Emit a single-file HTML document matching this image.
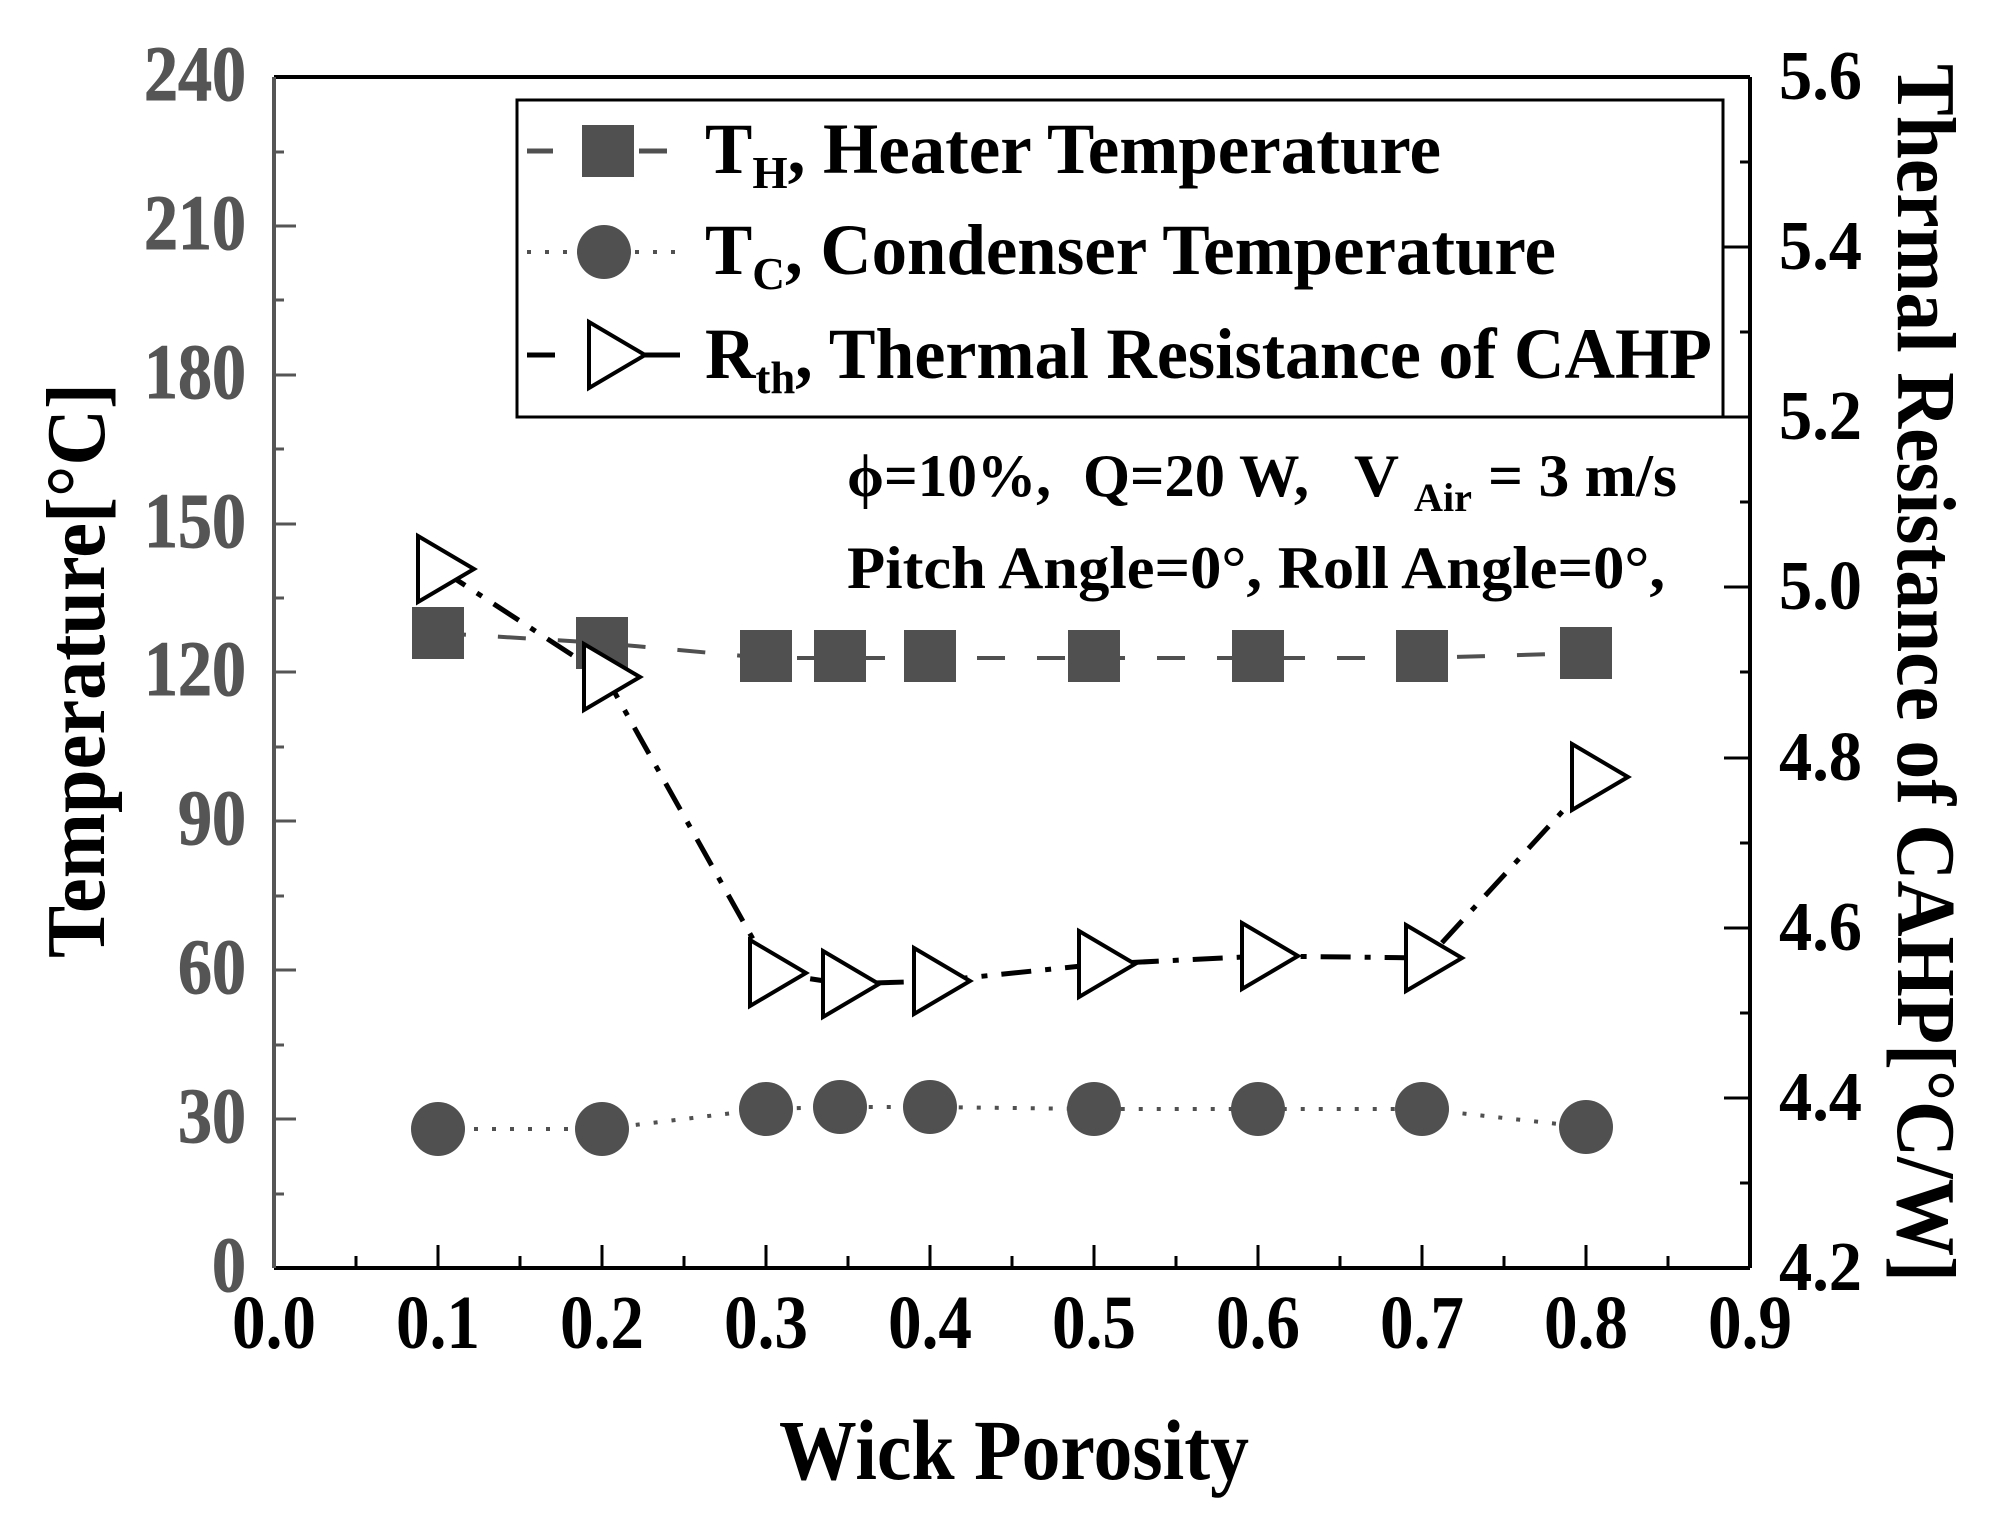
<!DOCTYPE html>
<html><head><meta charset="utf-8"><style>html,body{margin:0;padding:0;background:#fff}svg{display:block}</style></head>
<body>
<svg width="2002" height="1520" viewBox="0 0 2002 1520" xmlns="http://www.w3.org/2000/svg" font-family="'Liberation Serif', serif" font-weight="bold">
<rect width="2002" height="1520" fill="#fff"/>
<!-- axes -->
<line x1="274" y1="77" x2="1750" y2="77" stroke="#000" stroke-width="4"/>
<line x1="1750" y1="77" x2="1750" y2="1268" stroke="#000" stroke-width="4"/>
<line x1="274" y1="1268" x2="1750" y2="1268" stroke="#000" stroke-width="4"/>
<line x1="274" y1="77" x2="274" y2="1268" stroke="#555" stroke-width="4"/>
<!-- left ticks -->
<g stroke="#555" stroke-width="3">
<line x1="274" y1="1119" x2="296" y2="1119"/><line x1="274" y1="970" x2="296" y2="970"/><line x1="274" y1="821" x2="296" y2="821"/><line x1="274" y1="672" x2="296" y2="672"/><line x1="274" y1="524" x2="296" y2="524"/><line x1="274" y1="375" x2="296" y2="375"/><line x1="274" y1="226" x2="296" y2="226"/>
<line x1="274" y1="1194" x2="284" y2="1194"/><line x1="274" y1="1045" x2="284" y2="1045"/><line x1="274" y1="896" x2="284" y2="896"/><line x1="274" y1="747" x2="284" y2="747"/><line x1="274" y1="598" x2="284" y2="598"/><line x1="274" y1="449" x2="284" y2="449"/><line x1="274" y1="300" x2="284" y2="300"/><line x1="274" y1="152" x2="284" y2="152"/>
</g>
<!-- right ticks -->
<g stroke="#000" stroke-width="3">
<line x1="1750" y1="1098" x2="1724" y2="1098"/><line x1="1750" y1="928" x2="1724" y2="928"/><line x1="1750" y1="758" x2="1724" y2="758"/><line x1="1750" y1="587" x2="1724" y2="587"/><line x1="1750" y1="417" x2="1724" y2="417"/><line x1="1750" y1="247" x2="1724" y2="247"/>
<line x1="1750" y1="1183" x2="1740" y2="1183"/><line x1="1750" y1="1013" x2="1740" y2="1013"/><line x1="1750" y1="843" x2="1740" y2="843"/><line x1="1750" y1="672" x2="1740" y2="672"/><line x1="1750" y1="502" x2="1740" y2="502"/><line x1="1750" y1="332" x2="1740" y2="332"/><line x1="1750" y1="162" x2="1740" y2="162"/>
</g>
<!-- bottom ticks -->
<g stroke="#000" stroke-width="3">
<line x1="438" y1="1268" x2="438" y2="1245"/><line x1="602" y1="1268" x2="602" y2="1245"/><line x1="766" y1="1268" x2="766" y2="1245"/><line x1="930" y1="1268" x2="930" y2="1245"/><line x1="1094" y1="1268" x2="1094" y2="1245"/><line x1="1258" y1="1268" x2="1258" y2="1245"/><line x1="1422" y1="1268" x2="1422" y2="1245"/><line x1="1586" y1="1268" x2="1586" y2="1245"/>
<line x1="356" y1="1268" x2="356" y2="1256"/><line x1="520" y1="1268" x2="520" y2="1256"/><line x1="684" y1="1268" x2="684" y2="1256"/><line x1="848" y1="1268" x2="848" y2="1256"/><line x1="1012" y1="1268" x2="1012" y2="1256"/><line x1="1176" y1="1268" x2="1176" y2="1256"/><line x1="1340" y1="1268" x2="1340" y2="1256"/><line x1="1504" y1="1268" x2="1504" y2="1256"/><line x1="1668" y1="1268" x2="1668" y2="1256"/>
</g>
<!-- left labels -->
<g fill="#555" font-size="78" text-anchor="end" stroke="#555" stroke-width="1">
<text x="246" y="1291" textLength="34" lengthAdjust="spacingAndGlyphs">0</text>
<text x="246" y="1142" textLength="68" lengthAdjust="spacingAndGlyphs">30</text>
<text x="246" y="993" textLength="68" lengthAdjust="spacingAndGlyphs">60</text>
<text x="246" y="844" textLength="68" lengthAdjust="spacingAndGlyphs">90</text>
<text x="246" y="695" textLength="102" lengthAdjust="spacingAndGlyphs">120</text>
<text x="246" y="547" textLength="102" lengthAdjust="spacingAndGlyphs">150</text>
<text x="246" y="398" textLength="102" lengthAdjust="spacingAndGlyphs">180</text>
<text x="246" y="249" textLength="102" lengthAdjust="spacingAndGlyphs">210</text>
<text x="246" y="100" textLength="102" lengthAdjust="spacingAndGlyphs">240</text>
</g>
<!-- right labels -->
<g fill="#000" font-size="70">
<text x="1779" y="1290" textLength="83" lengthAdjust="spacingAndGlyphs">4.2</text>
<text x="1779" y="1120" textLength="83" lengthAdjust="spacingAndGlyphs">4.4</text>
<text x="1779" y="950" textLength="83" lengthAdjust="spacingAndGlyphs">4.6</text>
<text x="1779" y="780" textLength="83" lengthAdjust="spacingAndGlyphs">4.8</text>
<text x="1779" y="609" textLength="83" lengthAdjust="spacingAndGlyphs">5.0</text>
<text x="1779" y="439" textLength="83" lengthAdjust="spacingAndGlyphs">5.2</text>
<text x="1779" y="269" textLength="83" lengthAdjust="spacingAndGlyphs">5.4</text>
<text x="1779" y="99" textLength="83" lengthAdjust="spacingAndGlyphs">5.6</text>
</g>
<!-- x labels -->
<g fill="#000" font-size="76" text-anchor="middle">
<text x="274" y="1348" textLength="84" lengthAdjust="spacingAndGlyphs">0.0</text>
<text x="438" y="1348" textLength="84" lengthAdjust="spacingAndGlyphs">0.1</text>
<text x="602" y="1348" textLength="84" lengthAdjust="spacingAndGlyphs">0.2</text>
<text x="766" y="1348" textLength="84" lengthAdjust="spacingAndGlyphs">0.3</text>
<text x="930" y="1348" textLength="84" lengthAdjust="spacingAndGlyphs">0.4</text>
<text x="1094" y="1348" textLength="84" lengthAdjust="spacingAndGlyphs">0.5</text>
<text x="1258" y="1348" textLength="84" lengthAdjust="spacingAndGlyphs">0.6</text>
<text x="1422" y="1348" textLength="84" lengthAdjust="spacingAndGlyphs">0.7</text>
<text x="1586" y="1348" textLength="84" lengthAdjust="spacingAndGlyphs">0.8</text>
<text x="1750" y="1348" textLength="84" lengthAdjust="spacingAndGlyphs">0.9</text>
</g>
<!-- titles -->
<text x="779" y="1479" font-size="86" textLength="470" lengthAdjust="spacingAndGlyphs" fill="#000">Wick Porosity</text>
<text transform="translate(104,958) rotate(-90)" font-size="84" textLength="575" lengthAdjust="spacingAndGlyphs" fill="#000">Temperature[°C]</text>
<text transform="translate(1898,64) rotate(90)" font-size="84" textLength="1218" lengthAdjust="spacingAndGlyphs" fill="#000">Thermal Resistance of CAHP[°C/W]</text>
<!-- series lines -->
<polyline points="438,633 602,643 766,658 840,658 930,658 1094,658 1258,658 1422,658 1586,653" fill="none" stroke="#505050" stroke-width="4" stroke-dasharray="28,32"/>
<polyline points="438,1129 602,1129 766,1109 840,1107 930,1107 1094,1109 1258,1109 1422,1109 1586,1127" fill="none" stroke="#505050" stroke-width="4" stroke-dasharray="4,14"/>
<polyline points="440,569 606,677 772,973 845,984 936,981 1101,964 1264,956 1428,958 1594,777" fill="none" stroke="#000" stroke-width="5" stroke-dasharray="30,14,6,14"/>
<!-- squares -->
<g fill="#505050">
<rect x="412" y="607" width="52" height="52"/><rect x="576" y="617" width="52" height="52"/><rect x="740" y="630" width="52" height="52"/><rect x="814" y="630" width="52" height="52"/><rect x="904" y="630" width="52" height="52"/><rect x="1068" y="630" width="52" height="52"/><rect x="1232" y="630" width="52" height="52"/><rect x="1396" y="630" width="52" height="52"/><rect x="1560" y="627" width="52" height="52"/>
</g>
<!-- circles -->
<g fill="#505050">
<circle cx="438" cy="1129" r="27"/><circle cx="602" cy="1129" r="27"/><circle cx="766" cy="1109" r="27"/><circle cx="840" cy="1107" r="27"/><circle cx="930" cy="1107" r="27"/><circle cx="1094" cy="1109" r="27"/><circle cx="1258" cy="1109" r="27"/><circle cx="1422" cy="1109" r="27"/><circle cx="1586" cy="1127" r="27"/>
</g>
<!-- triangles -->
<g fill="#fff" stroke="#000" stroke-width="4">
<polygon points="418,536 474,569 418,602"/><polygon points="584,644 640,677 584,710"/><polygon points="750,940 806,973 750,1006"/><polygon points="823,951 879,984 823,1017"/><polygon points="914,948 970,981 914,1014"/><polygon points="1079,931 1135,964 1079,997"/><polygon points="1242,923 1298,956 1242,989"/><polygon points="1406,925 1462,958 1406,991"/><polygon points="1572,744 1628,777 1572,810"/>
</g>
<!-- legend -->
<rect x="517" y="100" width="1206" height="317" fill="#fff" stroke="#000" stroke-width="3"/>
<line x1="527" y1="151" x2="553" y2="151" stroke="#505050" stroke-width="5"/>
<line x1="639" y1="151" x2="667" y2="151" stroke="#505050" stroke-width="5"/>
<rect x="582" y="125" width="52" height="52" fill="#505050"/>
<line x1="527" y1="252" x2="680" y2="252" stroke="#505050" stroke-width="4" stroke-dasharray="4,14"/>
<circle cx="604" cy="252" r="27" fill="#505050"/>
<line x1="527" y1="355" x2="555" y2="355" stroke="#000" stroke-width="5"/>
<line x1="640" y1="355" x2="680" y2="355" stroke="#000" stroke-width="5"/>
<polygon points="589,322 645,355 589,388" fill="#fff" stroke="#000" stroke-width="4"/>
<g fill="#000" font-size="72">
<text x="705" y="173" textLength="736" lengthAdjust="spacingAndGlyphs">T<tspan font-size="46" dy="15">H</tspan><tspan dy="-15">, Heater Temperature</tspan></text>
<text x="705" y="274" textLength="851" lengthAdjust="spacingAndGlyphs">T<tspan font-size="46" dy="15">C</tspan><tspan dy="-15">, Condenser Temperature</tspan></text>
<text x="705" y="378" textLength="1007" lengthAdjust="spacingAndGlyphs">R<tspan font-size="46" dy="15">th</tspan><tspan dy="-15">, Thermal Resistance of CAHP</tspan></text>
</g>
<!-- annotations -->
<g fill="#000" font-size="60">
<text x="847" y="496" textLength="204" lengthAdjust="spacingAndGlyphs">ϕ=10%,</text>
<text x="1083" y="496" textLength="226" lengthAdjust="spacingAndGlyphs">Q=20 W,</text>
<text x="1354" y="496" textLength="45" lengthAdjust="spacingAndGlyphs">V</text>
<text x="1414" y="511" font-size="40" textLength="58" lengthAdjust="spacingAndGlyphs">Air</text>
<text x="1488" y="496" textLength="189" lengthAdjust="spacingAndGlyphs">= 3 m/s</text>
<text x="847" y="588" textLength="818" lengthAdjust="spacingAndGlyphs">Pitch Angle=0°, Roll Angle=0°,</text>
</g>
</svg>
</body></html>
